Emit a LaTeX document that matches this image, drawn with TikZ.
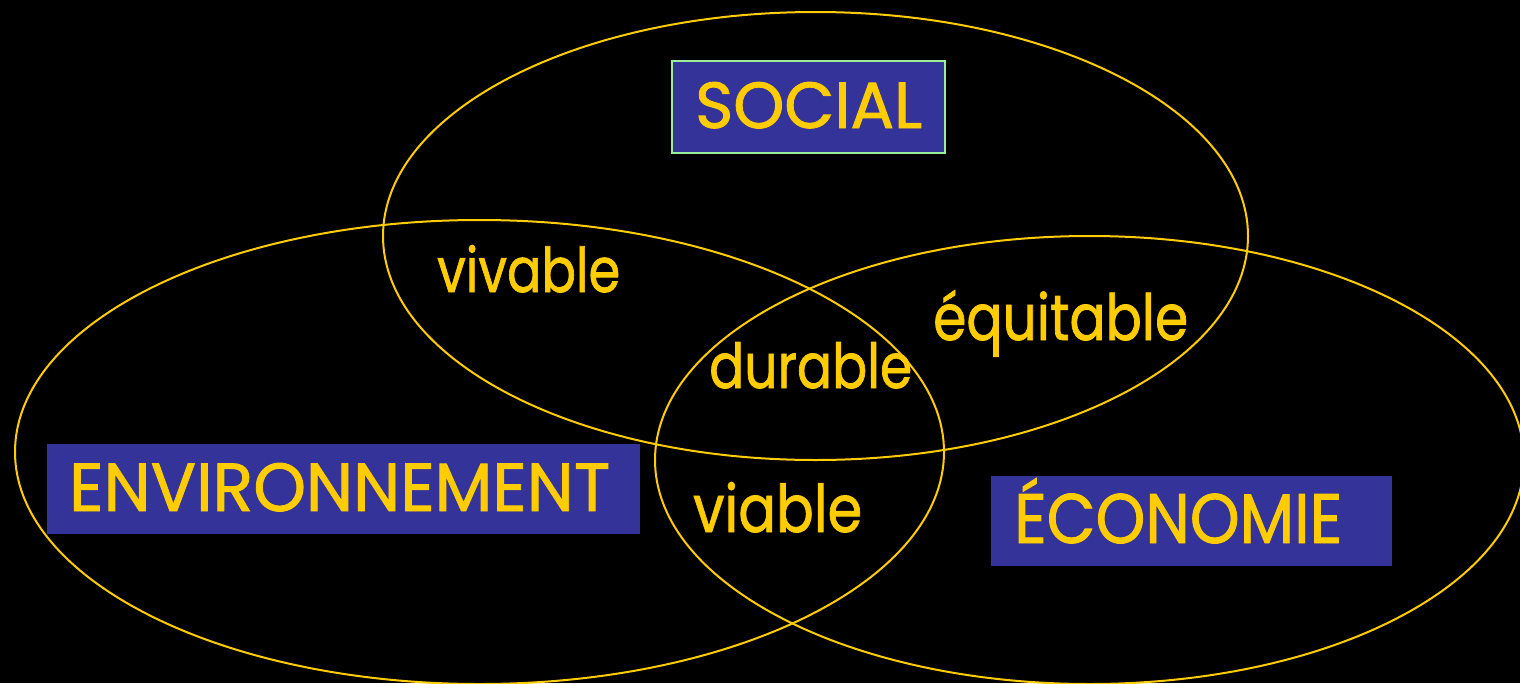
\documentclass[tikz,border=0pt]{standalone}
\usepackage{fontspec}
\setmainfont{Poppins}
\newfontfamily\wordfont{Poppins}[FakeBold=1.3]
\usetikzlibrary{shapes.geometric}
\definecolor{gold}{HTML}{FFCC00}
\definecolor{boxblue}{HTML}{333399}
\definecolor{boxedge}{HTML}{99EE99}
\tikzset{
  ring/.style={ellipse, draw=gold, line width=2pt, inner sep=0pt},
  titlebox/.style={rectangle, fill=boxblue, inner sep=0pt, anchor=north west},
  word/.style={text=gold, inner sep=0pt, anchor=base west, font=\wordfont\fontsize{60}{60}\selectfont}
}
\begin{document}
\begin{tikzpicture}[x=1pt, y=-1pt]
\fill[black] (0,0) rectangle (1520,683);
\useasboundingbox (0,0) rectangle (1520,683);
% ellipses
\node[ring, minimum width=865pt, minimum height=448pt] (social) at (815.5,236) {};
\node[ring, minimum width=929pt, minimum height=464pt] (env) at (479.5,452) {};
\node[ring, minimum width=869pt, minimum height=448pt] (eco) at (1089.5,460) {};
% boxes
\node[titlebox, draw=boxedge, line width=1.5pt, minimum width=273pt, minimum height=92pt] (socbox) at (671,60) {};
\node[titlebox, minimum width=593pt, minimum height=90pt] (envbox) at (47,444) {};
\node[titlebox, minimum width=401pt, minimum height=90pt] (ecobox) at (991,476) {};
% titles
\node[word] (socT) at (695,128) {\resizebox{227pt}{46pt}{SOCIAL}};
\node[word] (envT) at (69,511) {\resizebox{541pt}{48pt}{ENVIRONNEMENT}};
\node[word] (ecoT) at (1014,543) {\resizebox{328pt}{65pt}{ÉCONOMIE}};
% words
\node[word] (vivable) at (437,292) {\resizebox{183pt}{47pt}{vivable}};
\node[word] (durable) at (709,388) {\resizebox{203pt}{46pt}{durable}};
\node[word] (equitable) at (933,340) {\resizebox{255pt}{50pt}{équitable}};
\node[word] (viable) at (693,532) {\resizebox{169pt}{50pt}{viable}};
\end{tikzpicture}
\end{document}
